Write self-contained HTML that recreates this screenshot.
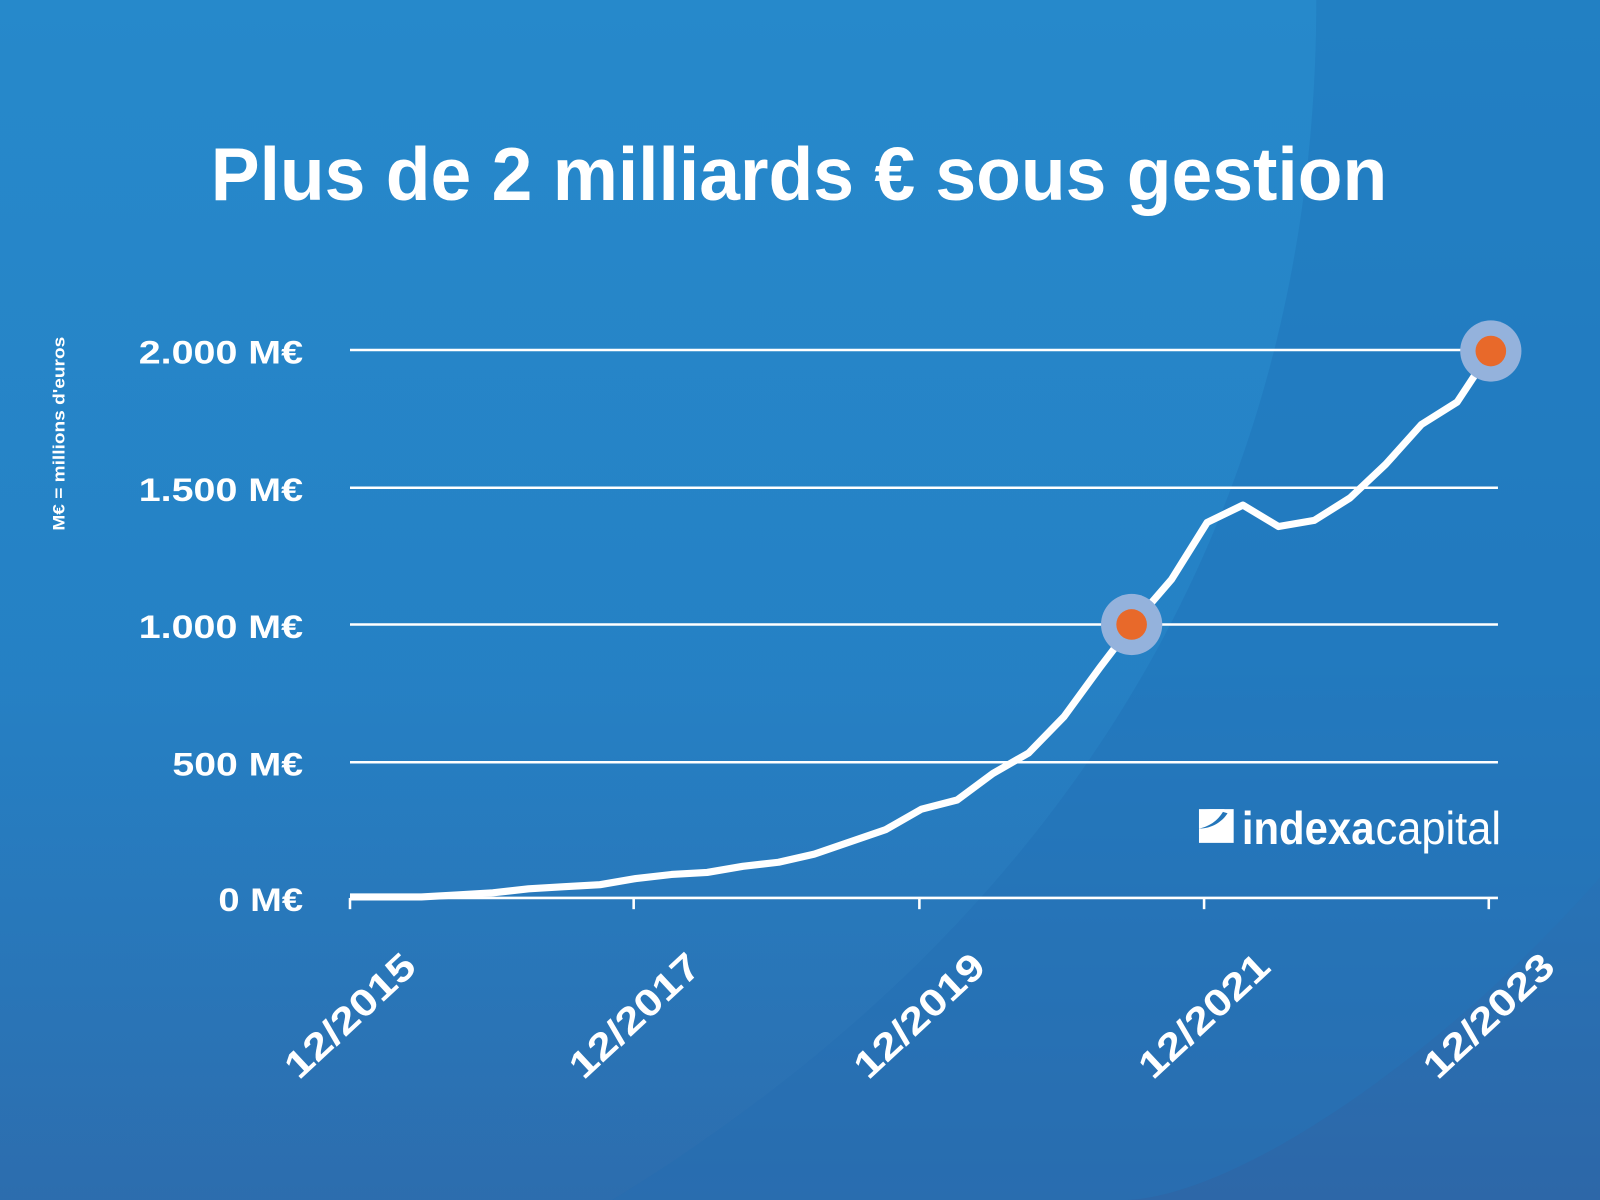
<!DOCTYPE html>
<html><head><meta charset="utf-8"><style>
html,body{margin:0;padding:0;width:1600px;height:1200px;overflow:hidden}
svg{display:block}
text{font-family:"Liberation Sans",sans-serif;fill:#fff;font-weight:bold}
</style></head><body>
<svg width="1600" height="1200" viewBox="0 0 1568 1176" preserveAspectRatio="none">
<defs>
<linearGradient id="bg" x1="0" y1="0" x2="0" y2="1">
<stop offset="0" stop-color="#2384c7"/>
<stop offset="0.55" stop-color="#237bc0"/>
<stop offset="1" stop-color="#2d67a8"/>
</linearGradient>
<linearGradient id="arc" x1="0" y1="0" x2="0" y2="1">
<stop offset="0" stop-color="#2a8fd0" stop-opacity="0.45"/>
<stop offset="1" stop-color="#2a8fd0" stop-opacity="0.15"/>
</linearGradient>
</defs>
<rect width="1568" height="1176" fill="url(#bg)"/>
<path d="M0,0 L1290,0 C1290,500 1050,900 600,1176 L0,1176 Z" fill="url(#arc)"/>
<path d="M1290,0 L1568,0 L1568,860 C1400,1050 1200,1176 1100,1176 L600,1176 C1050,900 1290,500 1290,0 Z" fill="#2178bd" opacity="0.35"/>
<text x="783" y="196" text-anchor="middle" font-size="74" textLength="1153" lengthAdjust="spacingAndGlyphs">Plus de 2 milliards € sous gestion</text>
<g stroke="#fff" stroke-width="2.5">
<line x1="343" y1="343" x2="1468" y2="343"/>
<line x1="343" y1="478" x2="1468" y2="478"/>
<line x1="343" y1="612" x2="1468" y2="612"/>
<line x1="343" y1="747" x2="1468" y2="747"/>
<line x1="343" y1="880" x2="1468" y2="880"/>
<line x1="343" y1="880" x2="343" y2="891"/>
<line x1="621" y1="880" x2="621" y2="891"/>
<line x1="901" y1="880" x2="901" y2="891"/>
<line x1="1180" y1="880" x2="1180" y2="891"/>
<line x1="1459" y1="880" x2="1459" y2="891"/>
</g>
<g font-size="32" text-anchor="end">
<text x="297" y="356" textLength="161" lengthAdjust="spacingAndGlyphs">2.000 M€</text>
<text x="297" y="491" textLength="161" lengthAdjust="spacingAndGlyphs">1.500 M€</text>
<text x="297" y="625" textLength="161" lengthAdjust="spacingAndGlyphs">1.000 M€</text>
<text x="297" y="760" textLength="128" lengthAdjust="spacingAndGlyphs">500 M€</text>
<text x="297" y="893" textLength="83" lengthAdjust="spacingAndGlyphs">0 M€</text>
</g>
<text transform="translate(63,425) rotate(-90)" font-size="16" text-anchor="middle" textLength="190" lengthAdjust="spacingAndGlyphs">M€ = millions d'euros</text>
<g font-size="37" text-anchor="end">
<text transform="translate(410,950) rotate(-43)" textLength="160" lengthAdjust="spacingAndGlyphs">12/2015</text>
<text transform="translate(689,950) rotate(-43)" textLength="160" lengthAdjust="spacingAndGlyphs">12/2017</text>
<text transform="translate(968,950) rotate(-43)" textLength="160" lengthAdjust="spacingAndGlyphs">12/2019</text>
<text transform="translate(1247,950) rotate(-43)" textLength="160" lengthAdjust="spacingAndGlyphs">12/2021</text>
<text transform="translate(1526,950) rotate(-43)" textLength="160" lengthAdjust="spacingAndGlyphs">12/2023</text>
</g>
<polyline fill="none" stroke="#fff" stroke-width="7" stroke-linejoin="round" points="343,879 378,879 413,879 448,877 483,875 518,871 553,869 588,867 623,861 658,857 693,855 728,849 763,845 798,837 833,825 868,813 903,793 938,784 973,758 1008,738 1043,702 1078,654 1110,612 1148,568 1183,512 1218,495 1253,516 1288,510 1323,488 1358,455 1393,416 1428,394 1461,344"/>
<circle cx="1109" cy="612" r="30" fill="#94b2dc"/>
<circle cx="1109" cy="612" r="15" fill="#e8692a"/>
<circle cx="1461" cy="344" r="30" fill="#94b2dc"/>
<circle cx="1461" cy="344" r="15" fill="#e8692a"/>
<path d="M1180,793 L1209,793 L1209,826 L1175,826 L1175,812 C1188,812 1198,805 1203,797 Q1190,793 1180,793 Z" fill="#fff"/>
<path d="M1175,793 L1200,793 C1195,803 1186,810 1175,812 Z" fill="#fff"/>
<text x="1217" y="827" font-size="45" textLength="130" lengthAdjust="spacingAndGlyphs">indexa</text>
<text x="1348" y="827" font-size="45" style="font-weight:normal" textLength="123" lengthAdjust="spacingAndGlyphs">capital</text>
</svg>
</body></html>
